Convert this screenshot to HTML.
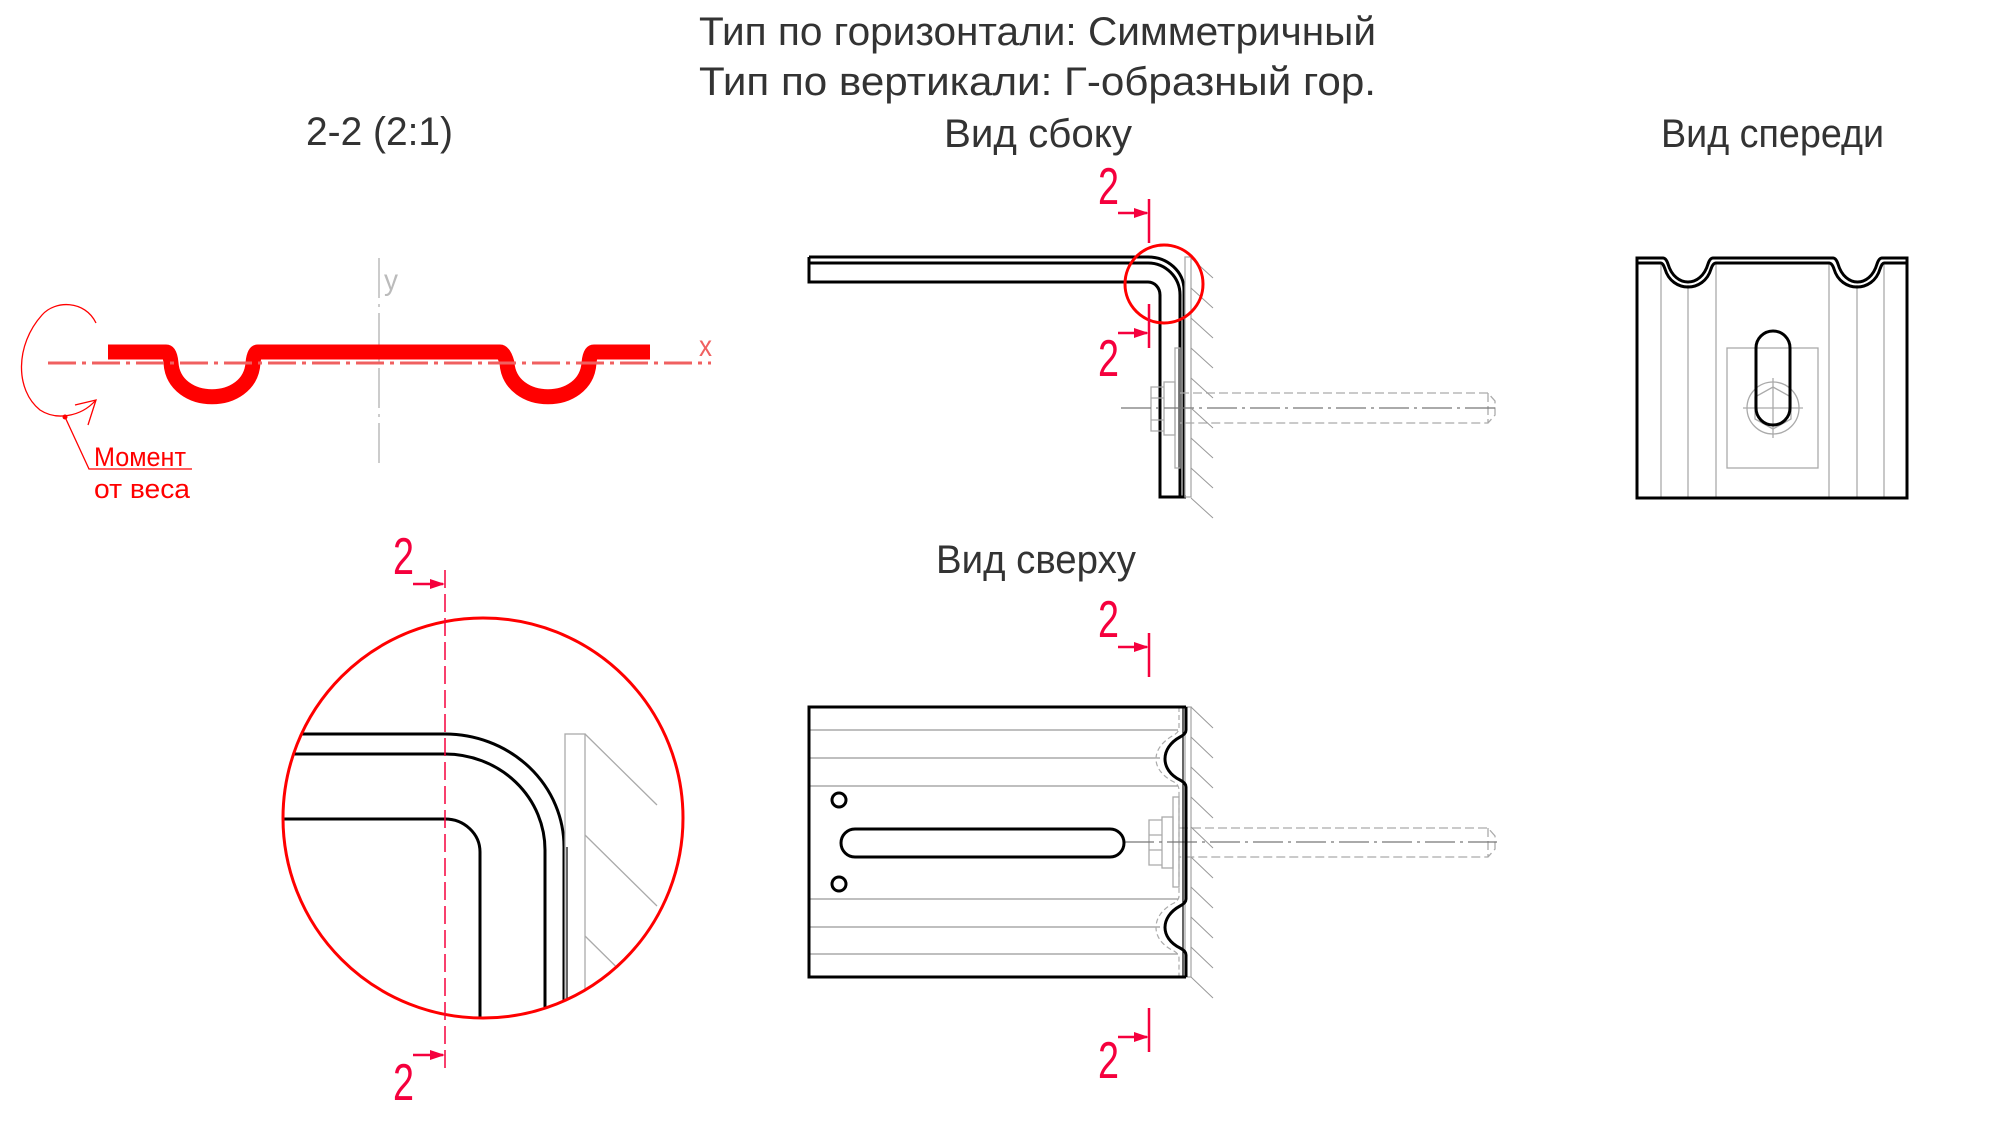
<!DOCTYPE html>
<html><head><meta charset="utf-8"><style>
html,body{margin:0;padding:0;background:#fff;}
svg{display:block;}
text{font-family:"Liberation Sans Narrow","Liberation Sans",sans-serif;}
</style></head><body>
<svg width="2000" height="1125" viewBox="0 0 2000 1125" xmlns="http://www.w3.org/2000/svg">
<defs>
<clipPath id="dc"><circle cx="483" cy="818" r="200"/></clipPath>
</defs>
<rect width="2000" height="1125" fill="#fff"/>

<!-- Titles -->
<g fill="#333" font-size="40">
<text x="699" y="45" textLength="677" lengthAdjust="spacingAndGlyphs">Тип по горизонтали: Симметричный</text>
<text x="699" y="95" textLength="677" lengthAdjust="spacingAndGlyphs">Тип по вертикали: Г-образный гор.</text>
<text x="944" y="147" textLength="188" lengthAdjust="spacingAndGlyphs">Вид сбоку</text>
<text x="1661" y="147" textLength="223" lengthAdjust="spacingAndGlyphs">Вид спереди</text>
<text x="306" y="145" textLength="147" lengthAdjust="spacingAndGlyphs">2-2 (2:1)</text>
<text x="936" y="573" textLength="200" lengthAdjust="spacingAndGlyphs">Вид сверху</text>
</g>

<!-- Section 2-2 profile -->
<line x1="379" y1="258" x2="379" y2="466" stroke="#bbb" stroke-width="1.5" stroke-dasharray="40 6 3 6"/>
<text x="384" y="290" font-size="30" fill="#bbb" textLength="14" lengthAdjust="spacingAndGlyphs">y</text>
<path d="M108,352 L166,352 Q170,352 171,363 C174,408 250,408 253,363 Q254,352 258,352 L500,352 Q504,352 507,363 C510,408 586,408 589,363 Q590,352 594,352 L650,352" fill="none" stroke="#ff0000" stroke-width="15"/>
<line x1="48" y1="363" x2="711" y2="363" stroke="#f06060" stroke-width="3" stroke-dasharray="28 6 4 6"/>
<text x="699" y="356" font-size="30" fill="#f06060" textLength="13" lengthAdjust="spacingAndGlyphs">x</text>
<!-- moment -->
<path d="M96,323 C85,300 55,300 42,315 C15,345 15,390 40,410 C55,420 80,418 96,400" fill="none" stroke="#ff0000" stroke-width="1.3"/>
<path d="M75,405 L96,400 L88,425" fill="none" stroke="#ff0000" stroke-width="1.3"/>
<circle cx="65" cy="417" r="2.5" fill="#ff0000"/>
<polyline points="65,417 89,469 192,469" fill="none" stroke="#ff0000" stroke-width="1.3"/>
<g fill="#ff0000" font-size="27">
<text x="94" y="466" textLength="92" lengthAdjust="spacingAndGlyphs">Момент</text>
<text x="94" y="498" textLength="96" lengthAdjust="spacingAndGlyphs">от веса</text>
</g>

<!-- Side view -->
<g fill="none" stroke="#000" stroke-width="3">
<path d="M809,257 L1148,257 A36,33 0 0 1 1184,290 L1184,497"/>
<path d="M809,263 L1148,263 A32,32 0 0 1 1180,295 L1180,497"/>
<path d="M809,257 L809,282 L1148,282 A12,13 0 0 1 1160,295 L1160,497 L1186,497"/>
</g>
<g stroke="#aaa" stroke-width="1.3" fill="none">
<rect x="1185" y="257" width="6" height="240"/>
<rect x="1175" y="348" width="5" height="120"/>
<rect x="1164" y="382" width="11" height="53"/>
<path d="M1164,387 L1151,387 L1151,431 L1164,431 M1151,398 L1164,398 M1151,420 L1164,420"/>
<path d="M1180,393 L1488,393 L1495,401 L1495,415 L1488,423 L1180,423 M1488,393 L1488,423" stroke-dasharray="9 4"/>
</g>
<line x1="1121" y1="408" x2="1497" y2="408" stroke="#777" stroke-width="1.3" stroke-dasharray="30 5 3 5"/>
<g stroke="#999" stroke-width="1">
<path d="M1191,258 l22,20 M1191,288 l22,20 M1191,318 l22,20 M1191,348 l22,20 M1191,378 l22,20 M1191,408 l22,20 M1191,438 l22,20 M1191,468 l22,20 M1191,498 l22,20"/>
</g>
<circle cx="1164" cy="284" r="39" fill="none" stroke="#ff0000" stroke-width="3"/>
<g stroke="#f5003d" stroke-width="2.5" fill="#f5003d">
<line x1="1149" y1="199" x2="1149" y2="243"/>
<line x1="1118" y1="213" x2="1147" y2="213"/>
<path d="M1149,213 L1134,208 L1134,218 Z" stroke="none"/>
<line x1="1149" y1="304" x2="1149" y2="348"/>
<line x1="1118" y1="333" x2="1147" y2="333"/>
<path d="M1149,333 L1134,328 L1134,338 Z" stroke="none"/>
</g>
<g fill="#f5003d" font-size="52">
<text x="1098" y="204" textLength="21" lengthAdjust="spacingAndGlyphs">2</text>
<text x="1098" y="376" textLength="21" lengthAdjust="spacingAndGlyphs">2</text>
</g>

<!-- Front view -->
<g fill="none" stroke="#aaa" stroke-width="1.3">
<path d="M1661,263 V498 M1688,285 V498 M1716,263 V498 M1829,263 V498 M1857,285 V498 M1884,263 V498"/>
<rect x="1727" y="348" width="91" height="120"/>
<circle cx="1773" cy="408" r="26"/>
<path d="M1773,387 L1791,397 L1791,419 L1773,429 L1755,419 L1755,397 Z"/>
<path d="M1743,408 H1803 M1773,378 V438"/>
</g>
<g fill="none" stroke="#000" stroke-width="3">
<path d="M1637,498 V258 H1663 Q1666,258 1668,264 C1675,288 1701,288 1708,264 Q1710,258 1713,258 H1833 Q1836,258 1838,264 C1845,288 1870,288 1877,264 Q1879,258 1882,258 H1907 V498 Z"/>
<path d="M1637,263 H1661 Q1663,263 1665,269 C1672,293 1704,293 1711,269 Q1713,263 1716,263 H1829 Q1832,263 1834,269 C1841,293 1873,293 1880,269 Q1882,263 1884,263 H1907"/>
<rect x="1756" y="331" width="34" height="94" rx="17"/>
</g>

<!-- Detail circle -->
<g clip-path="url(#dc)">
<g fill="none" stroke="#000" stroke-width="3">
<path d="M270,734 L445,734 A119,113 0 0 1 564,847 L564,1030"/>
<path d="M270,754 L445,754 A100,96 0 0 1 545,850 L545,1030"/>
<path d="M270,819 L445,819 A35,33 0 0 1 480,852 L480,1030"/>
</g>
<line x1="567" y1="847" x2="567" y2="1030" stroke="#000" stroke-width="1.2"/>
<g stroke="#aaa" stroke-width="1.3" fill="none">
<rect x="565" y="734" width="20" height="300"/>
<path d="M585,734 L657,805 M585,835 L657,906 M585,936 L657,1007"/>
</g>
</g>
<circle cx="483" cy="818" r="200" fill="none" stroke="#ff0000" stroke-width="3"/>
<line x1="445" y1="570" x2="445" y2="1070" stroke="#f5003d" stroke-width="1.5" stroke-dasharray="18 6"/>
<g stroke="#f5003d" stroke-width="2.5" fill="#f5003d">
<line x1="413" y1="584" x2="443" y2="584"/>
<path d="M445,584 L430,579 L430,589 Z" stroke="none"/>
<line x1="413" y1="1055" x2="443" y2="1055"/>
<path d="M445,1055 L430,1050 L430,1060 Z" stroke="none"/>
</g>
<g fill="#f5003d" font-size="52">
<text x="393" y="574" textLength="21" lengthAdjust="spacingAndGlyphs">2</text>
<text x="393" y="1100" textLength="21" lengthAdjust="spacingAndGlyphs">2</text>
</g>

<!-- Top view -->
<g stroke="#999" stroke-width="1.3">
<path d="M809,730 H1178 M809,758 H1160 M809,786 H1178 M809,899 H1178 M809,927 H1160 M809,954 H1178"/>
</g>
<g fill="none" stroke="#aaa" stroke-width="1.2" stroke-dasharray="5 3">
<path d="M1179,707 V728 Q1179,732 1174,735 C1150,748 1150,770 1174,782 Q1179,785 1179,790 V896 Q1179,900 1174,903 C1150,915 1150,940 1174,951 Q1179,954 1179,958 V977"/>
</g>
<g fill="none" stroke="#aaa" stroke-width="1.3">
<rect x="1185" y="707" width="6" height="270"/>
<rect x="1173" y="797" width="6" height="90"/>
<rect x="1162" y="817" width="11" height="51"/>
<path d="M1162,820 L1149,820 L1149,865 L1162,865 M1149,835 L1162,835 M1149,850 L1162,850"/>
<path d="M1179,828 L1488,828 L1495,836 L1495,849 L1488,857 L1179,857 M1488,828 L1488,857" stroke-dasharray="9 4"/>
</g>
<line x1="1124" y1="842" x2="1497" y2="842" stroke="#777" stroke-width="1.3" stroke-dasharray="30 5 3 5"/>
<g stroke="#999" stroke-width="1">
<path d="M1191,707 l22,21 M1191,737 l22,21 M1191,767 l22,21 M1191,797 l22,21 M1191,827 l22,21 M1191,857 l22,21 M1191,887 l22,21 M1191,917 l22,21 M1191,947 l22,21 M1191,977 l22,21"/>
</g>
<g fill="none" stroke="#000" stroke-width="3">
<path d="M1186,707 H809 V977 H1186"/>
<path d="M1186,707 V730 Q1186,734 1180,737 C1160,748 1160,770 1180,780 Q1186,783 1186,787 V899 Q1186,903 1180,906 C1160,917 1160,938 1180,948 Q1186,951 1186,955 V977"/>
<rect x="841" y="829" width="283" height="28" rx="14"/>
<circle cx="839" cy="800" r="7"/>
<circle cx="839" cy="884" r="7"/>
</g>
<line x1="1183" y1="707" x2="1183" y2="977" stroke="#000" stroke-width="1.2"/>
<g stroke="#f5003d" stroke-width="2.5" fill="#f5003d">
<line x1="1149" y1="633" x2="1149" y2="677"/>
<line x1="1118" y1="647" x2="1147" y2="647"/>
<path d="M1149,647 L1134,642 L1134,652 Z" stroke="none"/>
<line x1="1149" y1="1008" x2="1149" y2="1052"/>
<line x1="1118" y1="1037" x2="1147" y2="1037"/>
<path d="M1149,1037 L1134,1032 L1134,1042 Z" stroke="none"/>
</g>
<g fill="#f5003d" font-size="52">
<text x="1098" y="637" textLength="21" lengthAdjust="spacingAndGlyphs">2</text>
<text x="1098" y="1078" textLength="21" lengthAdjust="spacingAndGlyphs">2</text>
</g>
</svg>
</body></html>
